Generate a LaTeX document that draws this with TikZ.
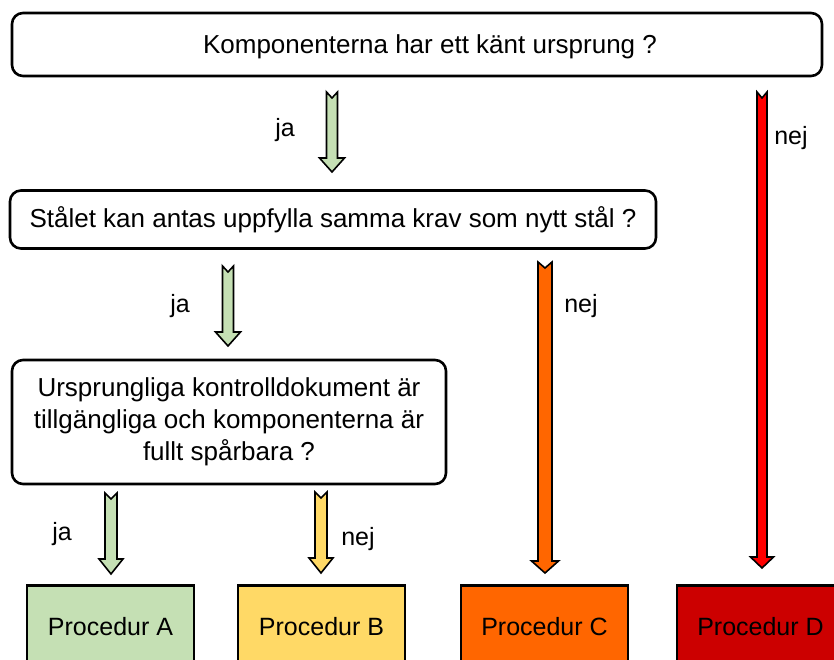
\documentclass[tikz,border=0pt]{standalone}
\usepackage{fontspec}
\setmainfont{Liberation Sans}
\usetikzlibrary{calc}
\definecolor{cgreen}{HTML}{C5E0B4}
\definecolor{cyellow}{HTML}{FFD966}
\definecolor{corange}{HTML}{FF6600}
\definecolor{cred}{HTML}{FF0000}
\definecolor{cdred}{HTML}{CC0000}
\tikzset{
  qbox/.style={draw=black, line width=2.6pt, rounded corners=11pt, fill=white, align=center,
    font=\fontsize{26}{32}\selectfont, inner sep=0pt},
  procbox/.style={draw=black, line width=2.6pt, minimum width=167pt, minimum height=84pt,
    font=\fontsize{25}{30}\selectfont, inner sep=0pt, anchor=north},
  lbl/.style={font=\fontsize{25}{30}\selectfont, anchor=base, inner sep=0pt},
  barrow/.style={draw=black, line width=1.6pt, line join=miter},
}
% block arrow: #1 start, #2 end, #3 fill, #4 shaft half width, #5 head half width, #6 head length
\newcommand{\blockarr}[6]{%
  \path[barrow, fill=#3] let \p1=(#1), \p2=(#2) in
    (\x1-#4pt,\y1) -- (\x1,\y1-6pt) -- (\x1+#4pt,\y1) -- (\x1+#4pt,\y2+#6pt)
    -- (\x1+#5pt,\y2+#6pt) -- (\x1,\y2) -- (\x1-#5pt,\y2+#6pt) -- (\x1-#4pt,\y2+#6pt) -- cycle;}
\begin{document}
\begin{tikzpicture}[x=1pt,y=-1pt]
\useasboundingbox (0,0) rectangle (834,660);
\clip (0,0) rectangle (834,660);
% question boxes
\node[qbox, minimum width=810pt, minimum height=63pt, text height=24pt, text depth=5pt] (q1) at (417,44.5)
  {\hspace*{26pt}Komponenterna har ett känt ursprung ?};
\node[qbox, minimum width=646pt, minimum height=58pt, text height=22pt, text depth=5pt] (q2) at (333,219.5)
  {Stålet kan antas uppfylla samma krav som nytt stål ?};
\node[qbox, minimum width=434pt, minimum height=124pt] (q3) at (229,422)
  {Ursprungliga kontrolldokument är\\tillgängliga och komponenterna är\\fullt spårbara ?};
% procedure boxes
\node[procbox, fill=cgreen, text height=16pt] (pa) at (110.5,584) {Procedur A};
\node[procbox, fill=cyellow, text height=16pt] (pb) at (321.5,584) {Procedur B};
\node[procbox, fill=corange, text height=16pt] (pc) at (544.5,584) {Procedur C};
\node[procbox, fill=cdred, text height=16pt] (pd) at (760.5,584) {Procedur D};
% arrow end points
\coordinate (a1s) at (332,92);  \coordinate (a1e) at (332,172);
\coordinate (a2s) at (228,266); \coordinate (a2e) at (228,346);
\coordinate (a3s) at (111,493); \coordinate (a3e) at (111,574);
\coordinate (a4s) at (321,492); \coordinate (a4e) at (321,573);
\coordinate (a5s) at (545,262); \coordinate (a5e) at (545,573);
\coordinate (a6s) at (762,92);  \coordinate (a6e) at (762,568);
\blockarr{a1s}{a1e}{cgreen}{5.5}{12.5}{14}
\blockarr{a2s}{a2e}{cgreen}{5.5}{12.5}{14}
\blockarr{a3s}{a3e}{cgreen}{6}{12}{15}
\blockarr{a4s}{a4e}{cyellow}{6}{12}{15}
\blockarr{a5s}{a5e}{corange}{7}{13.5}{12}
\blockarr{a6s}{a6e}{cred}{5}{11.5}{11}
% labels
\node[lbl] (l1) at (285,137) {ja};
\node[lbl] (l2) at (180,312) {ja};
\node[lbl] (l3) at (62,540) {ja};
\node[lbl] (l4) at (358,545) {nej};
\node[lbl] (l5) at (581,312) {nej};
\node[lbl] (l6) at (791,145) {nej};
\end{tikzpicture}
\end{document}
